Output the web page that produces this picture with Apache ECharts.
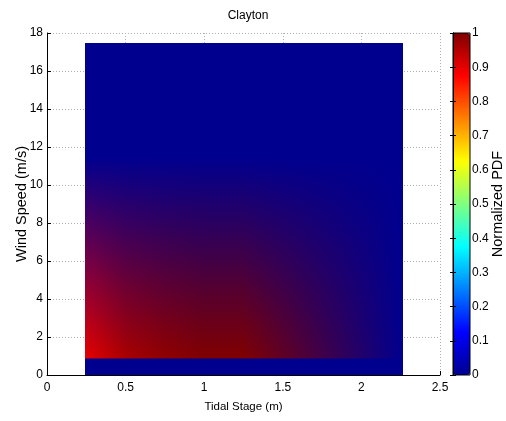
<!DOCTYPE html>
<html>
<head>
<meta charset="utf-8">
<script src="https://cdn.jsdelivr.net/npm/echarts@6/dist/echarts.min.js"></script>
<style>
  html, body { margin: 0; padding: 0; background: #fff; }
  #chart { width: 506px; height: 421px; }
</style>
</head>
<body>
<div id="chart"></div>
<script>
// Mesh nodes of the joint tidal stage / wind speed PDF (Clayton)
const tidalStage = [0.24, 0.5, 0.75, 1.0, 1.25, 2.265];       // m
const windSpeed  = [0, 0.86, 0.87, 11.5, 17.45];               // m/s
// Normalized PDF at each node, one row per wind speed node
const pdfWind0    = [0, 0, 0, 0, 0, 0];
const pdfWind086  = [0, 0, 0, 0, 0, 0];
const pdfWind087  = [0.90, 0.96, 0.985, 1.0, 1.0, 0];
const pdfWind115  = [0, 0, 0, 0, 0, 0];
const pdfWind1745 = [0, 0, 0, 0, 0, 0];
const pdfRows = [pdfWind0, pdfWind086, pdfWind087, pdfWind115, pdfWind1745];

// Axis ranges
const xRange = { min: 0, max: 2.5, step: 0.5 };
const yRange = { min: 0, max: 18, step: 2 };
const cbRange = { min: 0, max: 1, step: 0.1 };

// Jet colormap stops (evenly spaced from 0 to 1)
const jetStops = ['#00008f', '#0000ff', '#0080ff', '#00ffff', '#80ff80',
                  '#ffff00', '#ff8000', '#ff0000', '#800000'];

const FONT = "'Liberation Sans', Arial, Helvetica, sans-serif";

function hexToRgb(h) {
  return [parseInt(h.slice(1, 3), 16), parseInt(h.slice(3, 5), 16), parseInt(h.slice(5, 7), 16)];
}
const jetRgb = jetStops.map(hexToRgb);
function jet(v) {
  const p = Math.max(0, Math.min(1, v)) * (jetRgb.length - 1);
  const i = Math.min(jetRgb.length - 2, Math.floor(p));
  const f = p - i;
  return jetRgb[i].map((c, k) => c + (jetRgb[i + 1][k] - c) * f);
}
function mix(a, b, t) { return a.map((c, k) => c + (b[k] - c) * t); }
function css(c) { return 'rgb(' + c.map(Math.round).join(',') + ')'; }
function same(a, b) { return a.every((c, k) => Math.abs(c - b[k]) < 0.5); }

// One item per mesh cell (indices of its lower-left node)
const cells = [];
for (let j = 0; j < windSpeed.length - 1; j++) {
  for (let i = 0; i < tidalStage.length - 1; i++) cells.push([i, j]);
}

// Interpolated shading: node colours come from the colormap, and are blended
// in RGB across each cell (vertical gradients in 1-px columns)
function renderCell(params, api) {
  const i = api.value(0), j = api.value(1);
  const pa = api.coord([tidalStage[i], windSpeed[j]]);
  const pb = api.coord([tidalStage[i + 1], windSpeed[j + 1]]);
  const X0 = pa[0], X1 = pb[0];
  const x0 = Math.round(X0), x1 = Math.round(X1);
  const yb = Math.round(pa[1]), yt = Math.round(pb[1]);
  const h = yb - yt;
  if (h <= 0 || x1 <= x0) return null;
  const c00 = jet(pdfRows[j][i]), c10 = jet(pdfRows[j][i + 1]);
  const c01 = jet(pdfRows[j + 1][i]), c11 = jet(pdfRows[j + 1][i + 1]);
  const children = [];
  const fillFor = (cb, ct) => same(cb, ct) ? css(cb) :
    new echarts.graphic.LinearGradient(0, 0, 0, 1, [
      { offset: 0, color: css(ct) }, { offset: 1, color: css(cb) }]);
  if (same(c00, c10) && same(c01, c11)) {
    children.push({ type: 'rect', shape: { x: x0, y: yt, width: x1 - x0, height: h },
      style: { fill: fillFor(c00, c01) } });
  } else {
    for (let px = x0; px < x1; px++) {
      const s = Math.max(0, Math.min(1, (px + 0.5 - X0) / (X1 - X0)));
      const cb = mix(c00, c10, s), ct = mix(c01, c11, s);
      children.push({ type: 'rect', shape: { x: px, y: yt, width: 1, height: h },
        style: { fill: fillFor(cb, ct) } });
    }
  }
  return { type: 'group', children: children };
}

const chart = echarts.init(document.getElementById('chart'), null, { renderer: 'canvas' });

const tickFont = { color: '#000', fontFamily: FONT, fontSize: 12 };
const nameFont = { color: '#000', fontFamily: FONT, fontSize: 11.5 };
const sideNameFont = { color: '#000', fontFamily: FONT, fontSize: 14.5 };
const gridLine = { show: true, lineStyle: { color: '#b0b0b0', type: [1, 2], width: 1 } };

chart.setOption({
  animation: false,
  backgroundColor: '#fff',
  textStyle: { fontFamily: FONT },
  title: {
    text: 'Clayton', left: 243, top: 5, textAlign: 'center',
    textStyle: { color: '#000', fontWeight: 'normal', fontFamily: FONT, fontSize: 12 }
  },
  grid: [
    { left: 47, top: 33, width: 393, height: 342, outerBoundsMode: 'none', containLabel: false },
    { left: 453, top: 33, width: 17, height: 342, show: true, borderColor: '#000',
      borderWidth: 1, backgroundColor: 'transparent', z: 10,
      outerBoundsMode: 'none', containLabel: false }
  ],
  xAxis: [
    {
      type: 'value', gridIndex: 0, min: xRange.min, max: xRange.max, interval: xRange.step,
      name: 'Tidal Stage (m)', nameLocation: 'middle', nameGap: 26, nameMoveOverlap: false,
      nameTextStyle: nameFont,
      axisLine: { show: true, onZero: false, lineStyle: { color: '#000' } },
      axisTick: { show: true, inside: true, length: 4, lineStyle: { color: '#000' } },
      axisLabel: Object.assign({ margin: 7 }, tickFont),
      splitLine: gridLine
    },
    { type: 'value', gridIndex: 1, min: 0, max: 1, show: false }
  ],
  yAxis: [
    {
      type: 'value', gridIndex: 0, min: yRange.min, max: yRange.max, interval: yRange.step,
      name: 'Wind Speed (m/s)', nameLocation: 'middle', nameGap: 18, nameRotate: 90,
      nameMoveOverlap: false,
      nameTextStyle: sideNameFont,
      axisLine: { show: true, onZero: false, lineStyle: { color: '#000' } },
      axisTick: { show: true, inside: true, length: 4, lineStyle: { color: '#000' } },
      axisLabel: Object.assign({ margin: 4 }, tickFont),
      splitLine: gridLine
    },
    {
      type: 'value', gridIndex: 1, position: 'right', min: cbRange.min, max: cbRange.max,
      interval: cbRange.step, z: 10,
      name: 'Normalized PDF', nameLocation: 'middle', nameGap: 20, nameRotate: 90,
      nameMoveOverlap: false,
      nameTextStyle: sideNameFont,
      axisLine: { show: true, lineStyle: { color: '#000' } },
      axisTick: { show: true, inside: true, length: 3, lineStyle: { color: '#000' } },
      axisLabel: Object.assign({ margin: 2 }, tickFont),
      splitLine: { show: false }
    },
    {
      type: 'value', gridIndex: 1, position: 'left', min: cbRange.min, max: cbRange.max,
      interval: cbRange.step, z: 10,
      axisLine: { show: true, lineStyle: { color: '#000' } },
      axisTick: { show: true, inside: true, length: 3, lineStyle: { color: '#000' } },
      axisLabel: { show: false },
      splitLine: { show: false }
    }
  ],
  visualMap: {
    type: 'continuous', min: cbRange.min, max: cbRange.max,
    seriesIndex: 1, dimension: 1,
    calculable: false, hoverLink: false, realtime: false,
    orient: 'vertical', left: 453, top: 33, padding: 0,
    itemWidth: 17, itemHeight: 342, text: null, showLabel: false,
    inRange: { color: jetStops }, z: 4
  },
  series: [
    {
      type: 'custom', name: 'Normalized PDF', xAxisIndex: 0, yAxisIndex: 0,
      renderItem: renderCell, data: cells, z: 2, silent: true, clip: true
    },
    {
      type: 'line', xAxisIndex: 1, yAxisIndex: 1, data: [], silent: true
    }
  ]
});
</script>
</body>
</html>
